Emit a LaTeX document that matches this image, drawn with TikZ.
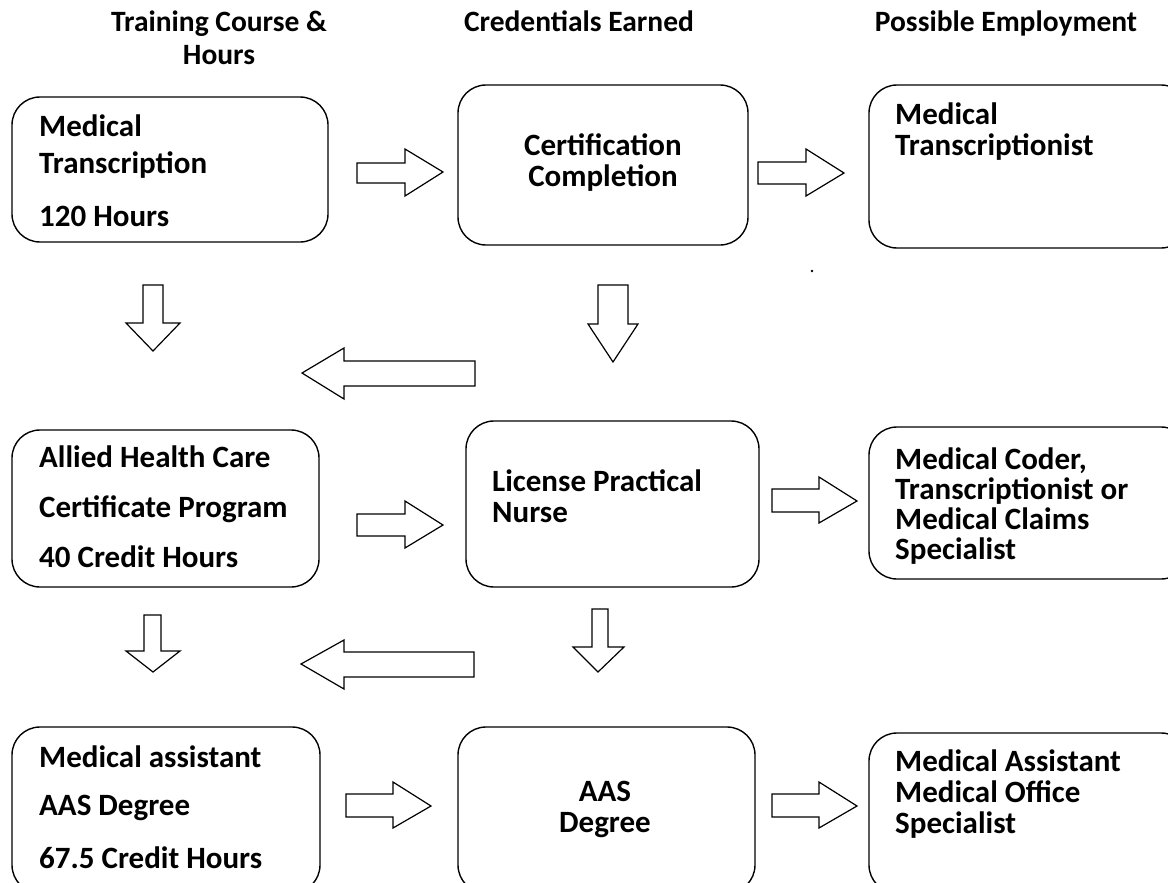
\documentclass[tikz,border=0pt]{standalone}
\usepackage{fontspec}
\setmainfont{Carlito}
\begin{document}
\begin{tikzpicture}[x=1pt,y=-1pt,
  box/.style={draw, line width=1.4pt, rounded corners=28pt, inner sep=0pt},
  txt/.style={font=\fontsize{31}{31}\selectfont\bfseries, align=left, anchor=base west, inner sep=0pt},
  ctxt/.style={font=\fontsize{31}{31}\selectfont\bfseries, align=center, anchor=base, inner sep=0pt},
  head/.style={font=\fontsize{29.5}{33}\selectfont\bfseries, align=center, anchor=base, inner sep=0pt},
  blk/.style={draw, line width=1.2pt, fill=white, line join=miter}]
\useasboundingbox (0,0) rectangle (1168,883);
\clip (0,0) rectangle (1168,883);
% headers
\node[head] (h1) at (219,65) {Training Course \&\\Hours};
\node[head] (h2) at (579,32) {Credentials Earned};
\node[head] (h3) at (1006,32) {Possible Employment};
% boxes
\node[box, minimum width=316, minimum height=145] (b1) at (170,169.5) {};
\node[box, minimum width=290, minimum height=160] (b2) at (603,165) {};
\node[box, minimum width=320, minimum height=163] (b3) at (1029,166.5) {};
\node[box, minimum width=307, minimum height=157] (b4) at (165.5,508.5) {};
\node[box, minimum width=293, minimum height=166] (b5) at (612.5,504) {};
\node[box, minimum width=320, minimum height=152] (b6) at (1029,503) {};
\node[box, minimum width=308, minimum height=166] (b7) at (166,810) {};
\node[box, minimum width=297, minimum height=166] (b8) at (606.5,810) {};
\node[box, minimum width=320, minimum height=160] (b9) at (1029,813) {};
% texts (anchor = baseline of last line)
\node[txt] (t1) at (39,226) {Medical\\[6pt]Transcription\\[22pt]120 Hours};
\node[ctxt] (t2) at (603,186) {Certification\\Completion};
\node[txt] (t3) at (895,155) {Medical\\Transcriptionist};
\node[txt] (t4) at (39,567) {Allied Health Care\\[19pt]Certificate Program\\[19pt]40 Credit Hours};
\node[txt] (t5) at (492,522) {License Practical\\Nurse};
\node[txt, font=\fontsize{31}{30}\selectfont\bfseries] (t6) at (895,559) {Medical Coder,\\Transcriptionist or\\Medical Claims\\Specialist};
\node[txt] (t7) at (39,868) {Medical assistant\\[17pt]AAS Degree\\[22pt]67.5 Credit Hours};
\node[ctxt] (t8) at (605,832) {AAS\\Degree};
\node[txt] (t9) at (895,833) {Medical Assistant\\Medical Office\\Specialist};
% right block arrows
\draw[blk] (357,163) -- (405,163) -- (405,149) -- (443,172) -- (405,196) -- (405,183) -- (357,183) -- cycle;
\draw[blk] (758,162) -- (806,162) -- (806,149) -- (844,173) -- (806,196) -- (806,184) -- (758,184) -- cycle;
\draw[blk] (357,514) -- (405,514) -- (405,501) -- (443,525) -- (405,548) -- (405,536) -- (357,536) -- cycle;
\draw[blk] (772,489) -- (819,489) -- (819,477) -- (857,501) -- (819,523) -- (819,512) -- (772,512) -- cycle;
\draw[blk] (346,794) -- (393,794) -- (393,782) -- (431,806) -- (393,828) -- (393,817) -- (346,817) -- cycle;
\draw[blk] (772,794) -- (819,794) -- (819,782) -- (857,806) -- (819,828) -- (819,817) -- (772,817) -- cycle;
% down block arrows
\draw[blk] (143,285) -- (163,285) -- (163,323) -- (180,323) -- (153,351) -- (126,323) -- (143,323) -- cycle;
\draw[blk] (598,285) -- (628,285) -- (628,324) -- (638,324) -- (613,362) -- (588,324) -- (598,324) -- cycle;
\draw[blk] (144,615) -- (161,615) -- (161,651) -- (180,651) -- (153,672) -- (126,651) -- (144,651) -- cycle;
\draw[blk] (592,609) -- (608,609) -- (608,647) -- (624,647) -- (598,672) -- (573,647) -- (592,647) -- cycle;
% left block arrows
\draw[blk] (475,361) -- (344,361) -- (344,348) -- (302,373) -- (344,399) -- (344,386) -- (475,386) -- cycle;
\draw[blk] (474,652) -- (344,652) -- (344,640) -- (301,664) -- (344,689) -- (344,677) -- (474,677) -- cycle;
% stray dot
\fill (812,271) circle (1.3);
\end{tikzpicture}
\end{document}
